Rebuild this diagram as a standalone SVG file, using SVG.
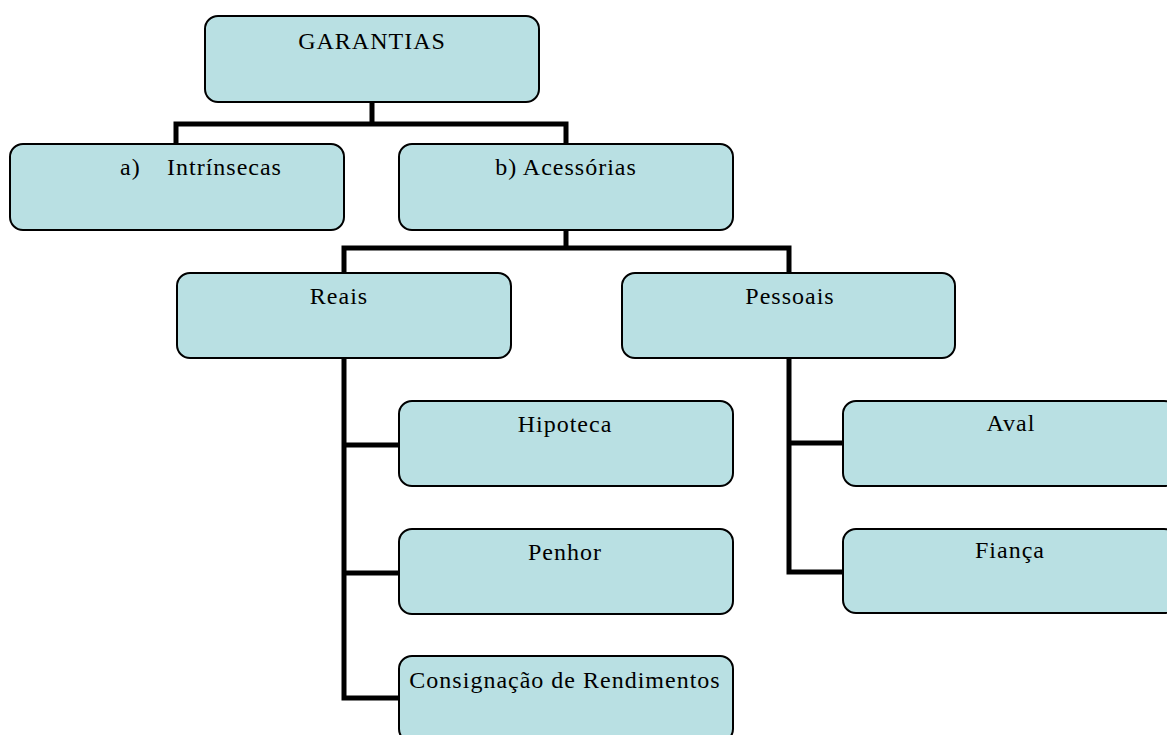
<svg xmlns="http://www.w3.org/2000/svg" width="1167" height="735" viewBox="0 0 1167 735">
<style>
.box{fill:#b9e0e3;stroke:#000;stroke-width:2}
.t{font-family:'Liberation Serif','Times New Roman','DejaVu Serif',serif;font-size:24px;letter-spacing:1px;fill:#000;text-anchor:middle}
.c{fill:none;stroke:#000;stroke-width:5;stroke-linejoin:miter}
</style>
<rect width="1167" height="735" fill="#fff"/>
<g id="connectors">
<path class="c" d="M372 102V124M176 147V124H566V147"/>
<path class="c" d="M566 230V248M344 276V248H789V276"/>
<path class="c" d="M344 358V698H402M344 445H402M344 573H402"/>
<path class="c" d="M789 358V572H846M789 443H846"/>
</g>
<g id="garantias"><rect class="box" x="205" y="16" width="334" height="86" rx="13"/><text class="t" font-family="Liberation Serif, serif" x="372" y="49">GARANTIAS</text></g>
<g id="intrinsecas"><rect class="box" x="10" y="144" width="334" height="86" rx="13"/><text class="t" font-family="Liberation Serif, serif" style="text-anchor:start" y="175"><tspan x="120">a)</tspan><tspan x="167">Intrínsecas</tspan></text></g>
<g id="acessorias"><rect class="box" x="399" y="144" width="334" height="86" rx="13"/><text class="t" font-family="Liberation Serif, serif" x="566" y="175">b) Acessórias</text></g>
<g id="reais"><rect class="box" x="177" y="273" width="334" height="85" rx="13"/><text class="t" font-family="Liberation Serif, serif" x="339" y="304">Reais</text></g>
<g id="pessoais"><rect class="box" x="622" y="273" width="333" height="85" rx="13"/><text class="t" font-family="Liberation Serif, serif" x="790" y="304">Pessoais</text></g>
<g id="hipoteca"><rect class="box" x="399" y="401" width="334" height="85" rx="13"/><text class="t" font-family="Liberation Serif, serif" x="565" y="432">Hipoteca</text></g>
<g id="penhor"><rect class="box" x="399" y="529" width="334" height="85" rx="13"/><text class="t" font-family="Liberation Serif, serif" x="565" y="560">Penhor</text></g>
<g id="consignacao"><rect class="box" x="399" y="656" width="334" height="86" rx="13"/><text class="t" font-family="Liberation Serif, serif" x="565" y="688">Consignação de Rendimentos</text></g>
<g id="aval"><rect class="box" x="843" y="401" width="334" height="85" rx="13"/><text class="t" font-family="Liberation Serif, serif" x="1011" y="431">Aval</text></g>
<g id="fianca"><rect class="box" x="843" y="529" width="334" height="84" rx="13"/><text class="t" font-family="Liberation Serif, serif" x="1010" y="558">Fiança</text></g>
</svg>
